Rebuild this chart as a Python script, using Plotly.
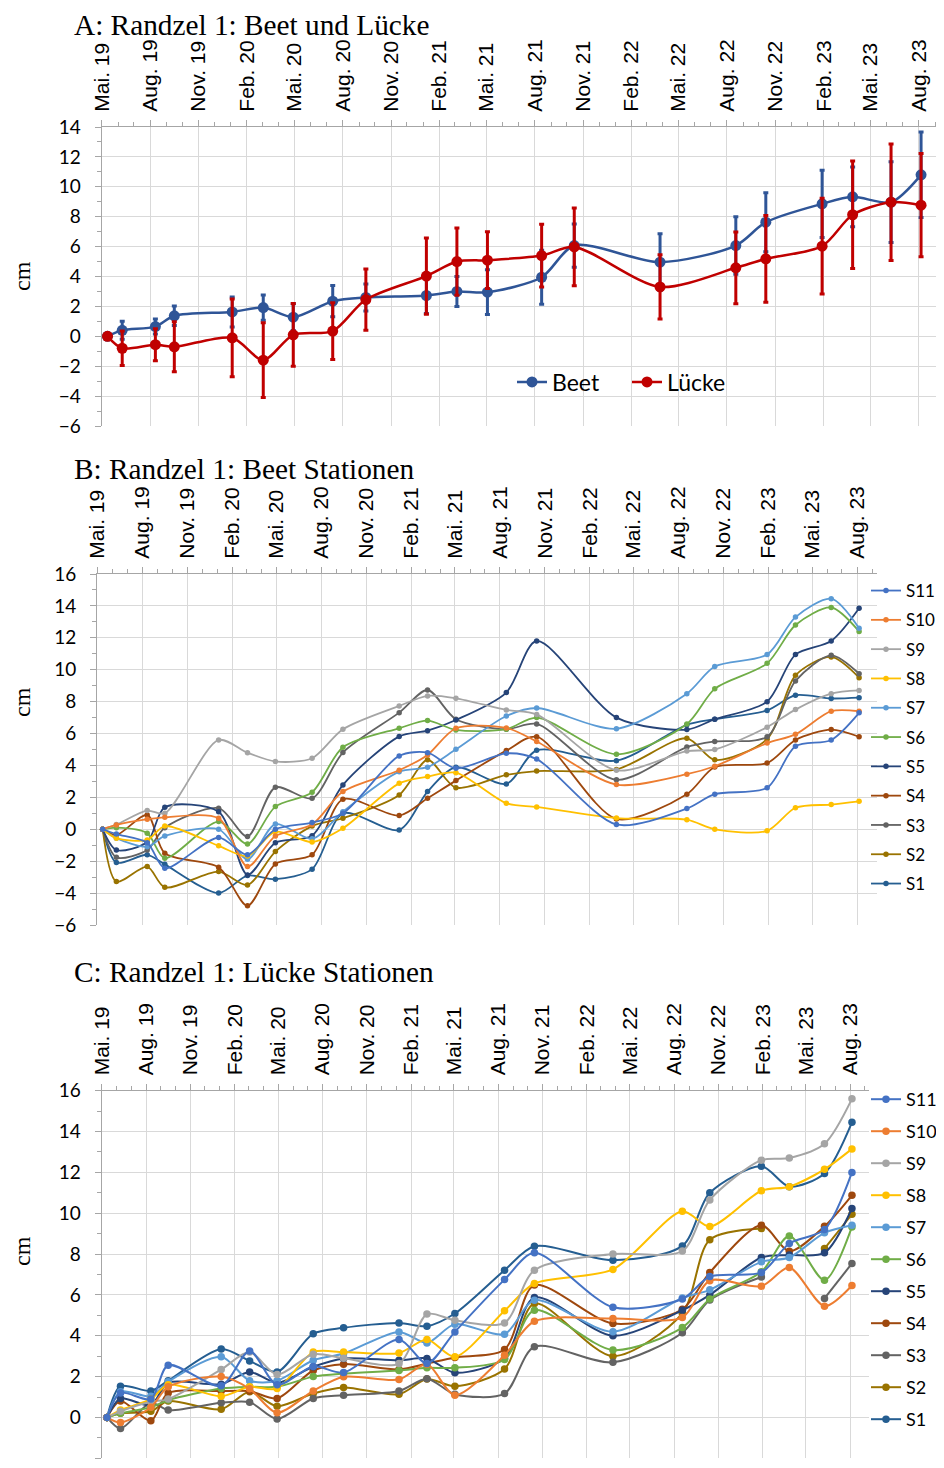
import plotly.graph_objects as go

# Messtermine (gleich für alle drei Panels)
dates = ["2019-05-12", "2019-06-09", "2019-08-11", "2019-09-16", "2020-01-04",
         "2020-03-03", "2020-04-29", "2020-07-13", "2020-09-14", "2021-01-07",
         "2021-03-06", "2021-05-03", "2021-08-14", "2021-10-15", "2022-03-27",
         "2022-08-18", "2022-10-14", "2023-01-29", "2023-03-28", "2023-06-09",
         "2023-08-05"]

# Achsenbeschriftung (Quartale)
tick_dates = ["2019-05-01", "2019-08-01", "2019-11-01", "2020-02-01", "2020-05-01",
              "2020-08-01", "2020-11-01", "2021-02-01", "2021-05-01", "2021-08-01",
              "2021-11-01", "2022-02-01", "2022-05-01", "2022-08-01", "2022-11-01",
              "2023-02-01", "2023-05-01", "2023-08-01"]
tick_text = ["Mai. 19", "Aug. 19", "Nov. 19", "Feb. 20", "Mai. 20", "Aug. 20",
             "Nov. 20", "Feb. 21", "Mai. 21", "Aug. 21", "Nov. 21", "Feb. 22",
             "Mai. 22", "Aug. 22", "Nov. 22", "Feb. 23", "Mai. 23", "Aug. 23"]

# Panel A: Mittelwerte und Fehler
beet = [0, 0.4, 0.65, 1.37, 1.63, 1.92, 1.28, 2.35, 2.6, 2.73, 3.0, 2.95, 3.95,
        6.07, 4.96, 6.07, 7.63, 8.86, 9.33, 8.97, 10.8]
beet_err = [0, 0.6, 0.5, 0.65, 1.0, 0.85, 0.9, 1.05, 0.9, 1.2, 1.0, 1.5, 1.8,
            1.45, 1.9, 1.92, 1.97, 2.25, 2.0, 2.7, 2.86]
luecke = [0, -0.8, -0.56, -0.7, -0.1, -1.6, 0.1, 0.35, 2.46, 4.03, 5.0, 5.09,
          5.4, 5.98, 3.3, 4.58, 5.18, 6.03, 8.13, 8.97, 8.77]
luecke_err = [0, 1.15, 1.07, 1.67, 2.6, 2.5, 2.1, 1.9, 2.05, 2.55, 2.25, 1.9,
              2.1, 2.6, 2.15, 2.4, 2.9, 3.2, 3.6, 3.9, 3.45]

# Panel B: Beet Stationen
beet_s1 = [0, -2.09, -1.6, -2.2, -4.0, -2.9, -3.13, -2.5, 1.0, -0.04, 2.36, 3.89,
           2.84, 4.95, 4.3, 6.55, 6.9, 7.45, 8.4, 8.2, 8.25]
beet_s2 = [0, -3.28, -2.34, -3.64, -2.65, -3.49, -1.4, 0.2, 0.69, 2.15, 4.35, 2.61,
           3.41, 3.65, 3.75, 5.7, 4.35, 5.65, 9.65, 10.8, 9.5]
beet_s3 = [0, -1.76, -1.3, 0.1, 1.32, -0.46, 2.63, 1.94, 4.81, 7.31, 8.73, 6.9,
           6.27, 6.6, 3.1, 5.15, 5.5, 5.8, 9.3, 10.9, 9.75]
beet_s4 = [0, -0.36, 0.9, -1.5, -2.38, -4.8, -2.17, -1.6, 1.88, 0.86, 1.94, 3.05,
           4.93, 5.8, 0.65, 2.2, 3.9, 4.15, 5.6, 6.25, 5.8]
beet_s5 = [0, -1.3, -0.8, 1.38, 1.1, -2.86, -0.84, -0.4, 2.78, 5.81, 6.18, 6.85,
           8.57, 11.8, 7.0, 6.25, 6.9, 8.0, 10.95, 11.8, 13.85]
beet_s6 = [0, 0.1, -0.25, -1.82, 0.48, -0.92, 1.42, 2.32, 5.14, 6.33, 6.81, 6.23,
           6.27, 7.0, 4.7, 6.6, 8.8, 10.4, 12.8, 13.9, 12.4]
beet_s7 = [0, -0.56, -1.1, -0.42, 0.0, -1.88, 0.33, -0.6, 1.1, 3.61, 3.89, 5.01,
           7.1, 7.6, 6.3, 8.5, 10.2, 10.95, 13.3, 14.45, 12.6]
beet_s8 = [0, -0.56, -0.67, 0.2, -1.04, -1.67, -0.15, -0.8, 0.06, 2.88, 3.3, 3.55,
           1.63, 1.4, 0.7, 0.6, 0.0, -0.1, 1.35, 1.55, 1.75]
beet_s9 = [0, 0.3, 1.17, 1.0, 5.6, 4.8, 4.25, 4.45, 6.27, 7.73, 8.36, 8.21,
           7.48, 7.2, 3.7, 4.9, 5.0, 6.4, 7.5, 8.5, 8.7]
beet_s10 = [0, 0.27, 0.63, 0.75, 0.69, -2.34, -0.42, 0.3, 2.36, 3.7, 4.66, 6.33,
            6.35, 5.5, 2.8, 3.45, 3.95, 5.4, 5.95, 7.4, 7.4]
beet_s11 = [0, -0.3, -0.84, -2.44, -0.52, -1.6, 0.0, 0.42, 1.0, 4.6, 4.8, 3.82,
            4.76, 4.4, 0.3, 1.3, 2.2, 2.6, 5.2, 5.6, 7.3]

# Panel C: Lücke Stationen (None = fehlender Wert)
luecke_s1 = [0, 1.53, 1.3, 1.8, 3.35, 2.77, 2.23, 4.1, 4.39, 4.63, 4.47, 5.09,
             7.21, 8.38, 7.7, 8.4, 11.0, 12.3, 11.3, 11.95, 14.45]
luecke_s2 = [0, 0.2, 0.3, 0.8, 0.4, 1.26, 0.55, 1.17, 1.47, 1.14, 1.88, 1.53,
             2.37, 5.58, 3.0, 5.1, 8.7, 9.25, None, 8.27, 9.95]
luecke_s3 = [0, -0.54, 0.72, 0.36, 0.72, 0.75, -0.07, 0.93, 1.09, 1.3, 1.9, 1.14,
             1.17, 3.46, 2.7, 4.15, 5.75, 6.88, None, 5.83, 7.54]
luecke_s4 = [0, 0.8, -0.16, 1.2, 1.29, 1.29, 0.93, 2.3, 2.61, 2.35, 2.64, 2.94,
             3.33, 6.48, 4.6, 5.3, 7.1, 9.41, 8.14, 9.36, 10.88]
luecke_s5 = [0, 0.93, 0.6, 1.7, 1.63, 2.23, 1.7, 2.48, 2.89, 2.8, 2.89, 2.19,
             2.9, 5.87, 4.0, 5.25, 6.0, 7.83, 7.95, 8.06, 10.23]
luecke_s6 = [0, 0.2, 0.5, 0.85, 1.42, 1.5, 1.5, 2.0, 2.15, 2.3, 2.43, 2.43,
             2.84, 5.25, 3.3, 4.4, 5.8, 7.13, 8.88, 6.72, 9.33]
luecke_s7 = [0, 1.26, 1.04, 1.75, 2.97, 1.8, 1.8, 2.8, 3.13, 4.19, 3.65, 4.57,
             4.08, 5.74, 4.2, 5.85, 6.25, 7.62, 7.83, 9.04, 9.41]
luecke_s8 = [0, 0.36, 0.9, 1.6, 1.04, 1.5, 1.42, 3.2, 3.2, 3.16, 3.82, 2.97,
             5.22, 6.56, 7.25, 10.1, 9.35, 11.1, 11.3, 12.15, 13.15]
luecke_s9 = [0, 0.3, 0.77, 0.9, 2.35, 3.2, 2.1, 3.1, 2.9, 2.64, 5.06, 4.76,
             4.63, 7.21, 8.0, 8.15, 10.65, 12.6, 12.7, 13.4, 15.6]
luecke_s10 = [0, -0.25, 0.5, 1.5, 2.0, 1.4, 0.23, 1.3, 1.99, 1.86, 2.6, 1.09,
              3.05, 4.71, 4.85, 4.9, 6.7, 6.43, 7.34, 5.45, 6.46]
luecke_s11 = [0, 1.2, 0.9, 2.56, 1.55, 3.26, 1.6, 2.5, 2.2, 3.82, 2.64, 4.19,
              6.75, 8.06, 5.4, 5.8, 6.9, 7.1, 8.52, 9.2, 12.0]

station_names = ["S1", "S2", "S3", "S4", "S5", "S6", "S7", "S8", "S9", "S10", "S11"]
beet_stations = [beet_s1, beet_s2, beet_s3, beet_s4, beet_s5, beet_s6, beet_s7,
                 beet_s8, beet_s9, beet_s10, beet_s11]
luecke_stations = [luecke_s1, luecke_s2, luecke_s3, luecke_s4, luecke_s5, luecke_s6,
                   luecke_s7, luecke_s8, luecke_s9, luecke_s10, luecke_s11]

# Office-Farbreihenfolge, S1 .. S11
station_colors = ["#255E91", "#997300", "#636363", "#9E480E", "#264478", "#70AD47",
                  "#5B9BD5", "#FFC000", "#A5A5A5", "#ED7D31", "#4472C4"]

OFF = 8                              # Body-Rand der Seite
W, H = 944 - OFF, 1468 - OFF         # Figur füllt das Fenster genau
GRID = "#D9D9D9"
AXIS = "#A6A6A6"
NUM_FONT = "Lato"
DATE_FONT = "Liberation Sans"
SERIF = "Liberation Serif"
X_RANGE = ["2019-05-01", "2023-09-10"]


# Positionen unten sind Seitenpixel (Fenster 944x1468)
def px(x):
    return (x - OFF) / W


def py(y):
    return 1 - (y - OFF) / H


fig = go.Figure()

# ── Panel A ─────────────────────────────────────────────────────────────
for name, vals, err, col in [("Beet", beet, beet_err, "#2F5597"),
                             ("Lücke", luecke, luecke_err, "#C00000")]:
    fig.add_trace(go.Scatter(
        x=dates, y=vals, name=name, mode="lines+markers",
        line=dict(color=col, width=2.5, shape="spline", smoothing=0.8),
        marker=dict(color=col, size=11),
        error_y=dict(type="data", array=err, color=col, thickness=3, width=2.5),
        xaxis="x", yaxis="y", legend="legend",
    ))

# ── Panel B / C ─────────────────────────────────────────────────────────
for panel, data, ax, leg, msize, lw in [("B", beet_stations, "2", "legend2", 5.5, 1.8),
                                        ("C", luecke_stations, "3", "legend3", 7.5, 2.0)]:
    for i, (name, vals, col) in enumerate(zip(station_names, data, station_colors)):
        fig.add_trace(go.Scatter(
            x=dates, y=vals, name=name, mode="lines+markers",
            line=dict(color=col, width=lw, shape="spline", smoothing=0.8),
            marker=dict(color=col, size=msize),
            connectgaps=False, legendgroup=panel + name, legendrank=100 - i,
            xaxis="x" + ax, yaxis="y" + ax, legend=leg,
        ))


def xaxis_style(d0, d1, anchor):
    return dict(
        domain=[px(d0), px(d1)], anchor=anchor, side="top", type="date",
        range=X_RANGE, tickmode="array", tickvals=tick_dates, ticktext=tick_text,
        tickangle=-90, tickfont=dict(family=DATE_FONT, size=21, color="#000000"),
        showgrid=True, gridcolor=GRID, gridwidth=1,
        showline=True, linecolor=AXIS, linewidth=1.3,
        ticks="outside", ticklen=6, tickcolor=AXIS, ticklabelstandoff=4,
        minor=dict(dtick="M1", tick0="2019-05-01", ticks="outside", ticklen=4,
                   tickcolor=AXIS, showgrid=False),
        zeroline=False, fixedrange=True, automargin=False,
    )


def yaxis_style(top, bottom, rng, anchor):
    return dict(
        domain=[py(bottom), py(top)], anchor=anchor, range=rng, dtick=2,
        tickfont=dict(family=NUM_FONT, size=19, color="#000000"),
        showgrid=True, gridcolor=GRID, gridwidth=1, zeroline=False,
        showline=True, linecolor=AXIS, linewidth=1.3,
        ticks="outside", ticklen=6, tickcolor=AXIS, ticklabelstandoff=10,
        minor=dict(dtick=1, ticks="outside", ticklen=4, tickcolor=AXIS, showgrid=False),
        fixedrange=True, automargin=False,
    )


titles = [("A: Randzel 1: Beet und Lücke", 25), ("B: Randzel 1: Beet Stationen", 469),
          ("C: Randzel 1: Lücke Stationen", 972)]
annotations = [dict(text=t, x=px(73), y=py(yy), xref="paper", yref="paper",
                    xanchor="left", yanchor="middle", showarrow=False, borderpad=0,
                    font=dict(family=SERIF, size=29.3, color="#000000"))
               for t, yy in titles]
for yy in [276, 702, 1251]:
    annotations.append(dict(text="cm", x=px(22), y=py(yy), xref="paper", yref="paper",
                            xanchor="center", yanchor="middle", showarrow=False,
                            textangle=-90,
                            font=dict(family=SERIF, size=24, color="#000000")))

fig.update_layout(
    width=W, height=H,
    margin=dict(l=0, r=0, t=0, b=0, pad=0, autoexpand=False),
    paper_bgcolor="white", plot_bgcolor="white",
    showlegend=True,
    xaxis=xaxis_style(101.7, 940, "y"),
    yaxis=yaxis_style(127, 426, [-6, 14], "x"),
    xaxis2=xaxis_style(97.3, 876.7, "y2"),
    yaxis2=yaxis_style(574, 925, [-6, 16], "x2"),
    xaxis3=xaxis_style(101.7, 869.3, "y3"),
    yaxis3=yaxis_style(1090.7, 1458.3, [-2, 16], "x3"),
    legend=dict(orientation="h", x=px(512), y=py(382), xanchor="left",
                yanchor="middle", bgcolor="rgba(0,0,0,0)",
                font=dict(family=NUM_FONT, size=23, color="#000000"),
                itemwidth=30, entrywidth=70),
    legend2=dict(x=px(866), y=py(573), xanchor="left", yanchor="top",
                 bgcolor="rgba(0,0,0,0)", traceorder="grouped",
                 tracegroupgap=4.2, itemwidth=30,
                 font=dict(family=NUM_FONT, size=17, color="#000000")),
    legend3=dict(x=px(866), y=py(1081), xanchor="left", yanchor="top",
                 bgcolor="rgba(0,0,0,0)", traceorder="grouped",
                 tracegroupgap=5.6, itemwidth=30,
                 font=dict(family=NUM_FONT, size=18, color="#000000")),
    annotations=annotations,
)

fig.write_html("out.html")
